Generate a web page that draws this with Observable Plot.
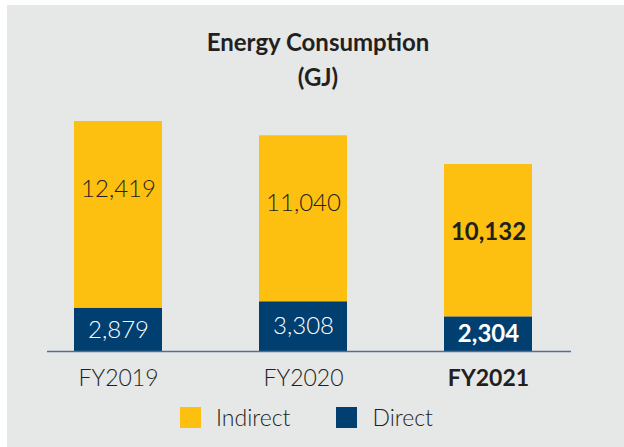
<!DOCTYPE html>
<html>
<head>
<meta charset="utf-8">
<script src="https://cdn.jsdelivr.net/npm/d3@7"></script>
<script src="https://cdn.jsdelivr.net/npm/@observablehq/plot@0.6"></script>
<style>
  body { margin: 0; background: #ffffff; font-family: Lato, "Open Sans", sans-serif; }
  #panel { position: absolute; left: 7px; top: 5px; width: 617px; height: 442px; background: #e6e7e7; overflow: hidden; }
  #title { position: absolute; left: 5px; right: 0; top: 19px; text-align: center; font-weight: 700; font-size: 24px; line-height: 35px; color: #231f20; }
  #chart { position: absolute; left: 0; top: 95px; }
  #legend { position: absolute; left: 173px; top: 398px; display: flex; align-items: center; font-size: 23px; font-weight: 300; color: #231f20; }
  .sw { width: 21px; height: 21px; margin-right: 15px; }
  .lab { margin-right: 46px; }
</style>
</head>
<body>
<div id="panel">
  <div id="title">Energy Consumption<br>(GJ)</div>
  <div id="chart"></div>
  <div id="legend"></div>
</div>
<script>
const years = ["FY2019", "FY2020", "FY2021"];
const indirect = [12419, 11040, 10132];
const direct = [2879, 3308, 2304];
const seriesNames = ["Indirect", "Direct"];
const seriesColors = ["#fdbf10", "#003f70"];
const highlightYear = "FY2021";

const fmt = d3.format(",");
const rows = [];
years.forEach((y, i) => {
  rows.push({year: y, type: "Direct", value: direct[i]});
  rows.push({year: y, type: "Indirect", value: indirect[i]});
});
const totals = years.map((y, i) => ({year: y, total: direct[i] + indirect[i], indirect: indirect[i], direct: direct[i]}));
const normal = totals.filter(d => d.year !== highlightYear);
const bold = totals.filter(d => d.year === highlightYear);

const labelFont = {fontSize: 24, fontFamily: "Lato, 'Open Sans', sans-serif"};

const chart = Plot.plot({
  width: 617,
  height: 300,
  marginTop: 21,
  marginBottom: 49,
  marginLeft: 40,
  marginRight: 53,
  style: {background: "transparent", fontFamily: "Lato, 'Open Sans', sans-serif"},
  x: {domain: years, paddingInner: 0.5256, paddingOuter: 0.175, align: 0.415, label: null},
  y: {domain: [0, d3.max(totals, d => d.total)], axis: null},
  color: {domain: seriesNames, range: seriesColors},
  marks: [
    Plot.barY(rows, {x: "year", y: "value", fill: "type", order: ["Direct", "Indirect"]}),
    Plot.ruleY([0], {stroke: "#4f7191", strokeWidth: 1.5}),
    // direct labels (middle of direct segment)
    Plot.text(normal, {x: "year", y: d => d.direct / 2, text: d => fmt(d.direct), fill: "white", fontWeight: 300, ...labelFont}),
    Plot.text(bold, {x: "year", y: d => d.direct / 2, text: d => fmt(d.direct), fill: "white", fontWeight: 700, ...labelFont}),
    // indirect labels (near the top of the bar)
    Plot.text(normal, {x: "year", y: "total", dy: 68, text: d => fmt(d.indirect), fill: "#231f20", fontWeight: 300, ...labelFont}),
    Plot.text(bold, {x: "year", y: "total", dy: 68, text: d => fmt(d.indirect), fill: "#231f20", fontWeight: 700, ...labelFont}),
    Plot.axisX({ticks: years.filter(y => y !== highlightYear), tickSize: 0, tickPadding: 18, fontSize: 23, fontWeight: 300, color: "#231f20", label: null}),
    Plot.axisX({ticks: [highlightYear], tickSize: 0, tickPadding: 18, fontSize: 23, fontWeight: 700, color: "#231f20", label: null})
  ]
});
document.getElementById("chart").appendChild(chart);

const legend = document.getElementById("legend");
seriesNames.forEach((name, i) => {
  const sw = document.createElement("div");
  sw.className = "sw";
  sw.style.background = seriesColors[i];
  const lab = document.createElement("div");
  lab.className = "lab";
  lab.textContent = name;
  legend.appendChild(sw);
  legend.appendChild(lab);
});
</script>
</body>
</html>
